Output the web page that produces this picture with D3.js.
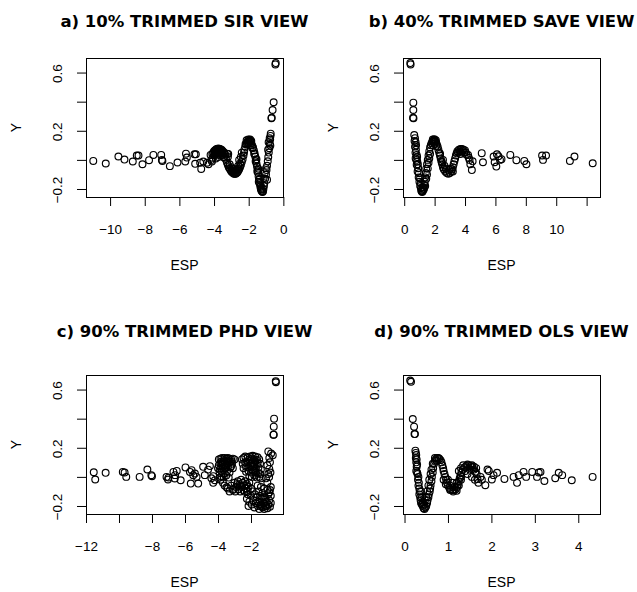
<!DOCTYPE html>
<html>
<head>
<meta charset="utf-8">
<script src="https://cdn.jsdelivr.net/npm/d3@7"></script>
<style>
body { margin: 0; background: #fff; }
</style>
</head>
<body>
<div id="chart"></div>
<script>

// Panel titles
var titles = ["a) 10% TRIMMED SIR VIEW", "b) 40% TRIMMED SAVE VIEW",
              "c) 90% TRIMMED PHD VIEW", "d) 90% TRIMMED OLS VIEW"];

// Axis limits and ticks
var yLim = [-0.255, 0.70];
var yTicks = [-0.2, 0, 0.2, 0.4, 0.6];
var yTickLabels = ["\u22120.2", "", "0.2", "", "0.6"];

var xlimSir = [-11.39, -0.02];
var sirTicks = [-10, -8, -6, -4, -2, 0];
var sirTickLabels = ["\u221210", "\u22128", "\u22126", "\u22124", "\u22122", "0"];

var xlimSave = [-0.08, 12.88];
var saveTicks = [0, 2, 4, 6, 8, 10, 12];
var saveTickLabels = ["0", "2", "4", "6", "8", "10", ""];

var xlimPhd = [-12.0, -0.06];
var phdTicks = [-12, -10, -8, -6, -4, -2];
var phdTickLabels = ["\u221212", "", "\u22128", "\u22126", "\u22124", "\u22122"];

var xlimOls = [-0.035, 4.5];
var olsTicks = [0, 1, 2, 3, 4];
var olsTickLabels = ["0", "1", "2", "3", "4"];

// [ESP, Y] pairs
var sirPoints = [
  [-10.97,-0.007],[-10.25,-0.025],[-9.52,0.023],[-9.17,0.002],[-8.69,-0.011],[-8.46,0.03],[-8.36,0.03],
  [-8.13,-0.03],[-7.75,-0.002],[-7.5,0.034],[-7.05,0.034],[-7.01,0.0],[-6.98,-0.007],[-6.55,-0.043],
  [-6.11,-0.018],[-5.66,-0.011],[-5.62,0.043],[-5.57,0.016],[-5.13,0.039],[-5.09,-0.027],[-5.05,0.039],
  [-4.8,-0.02],[-4.74,-0.062],[-4.62,-0.011],[-4.4,-0.02],[-4.32,-0.03],[-4.2,0.034],[-4.15,0.0],[-4.12,-0.011],
  [-4.1,0.04],[-4.05,0.05],[-4.0,0.06],[-3.95,0.065],[-3.9,0.07],[-3.85,0.075],[-3.8,0.075],[-3.75,0.078],
  [-3.7,0.075],[-3.65,0.075],[-3.6,0.07],[-3.55,0.068],[-3.5,0.06],[-3.45,0.055],[-3.4,0.045],[-3.35,0.035],
  [-4.0,0.03],[-3.9,0.04],[-3.8,0.05],[-3.7,0.045],[-3.6,0.05],[-3.5,0.035],[-3.45,0.02],[-3.9,0.01],
  [-3.75,0.02],[-3.25,0.043],[-3.18,0.04],[-3.2,0.02],
  [-4.08,0.015],[-3.95,0.045],[-3.85,0.06],[-3.75,0.06],[-3.65,0.055],[-3.55,0.045],[-3.62,0.03],
  [-3.4,0.015],[-3.82,0.035],[-3.68,0.065],
  [-3.3,0.0],[-3.25,-0.02],[-3.2,-0.035],[-3.15,-0.05],[-3.1,-0.06],[-3.05,-0.07],[-3.0,-0.08],[-2.95,-0.085],
  [-2.9,-0.09],[-2.85,-0.095],[-2.8,-0.095],[-2.75,-0.095],[-2.7,-0.09],[-2.65,-0.085],[-2.6,-0.075],
  [-2.55,-0.065],[-2.5,-0.05],[-2.45,-0.035],[-2.4,-0.015],[-2.35,0.005],[-3.1,-0.03],[-2.95,-0.06],
  [-2.8,-0.07],[-2.6,-0.04],[-2.55,0.0],[-2.45,0.02],[-2.4,0.05],
  [-3.0,-0.05],[-2.88,-0.075],[-2.72,-0.075],[-2.65,-0.06],[-2.5,-0.025],
  [-2.3,0.03],[-2.27,0.05],[-2.25,0.07],[-2.2,0.09],[-2.15,0.105],[-2.1,0.12],[-2.05,0.125],[-2.0,0.13],
  [-1.95,0.13],[-1.9,0.125],[-1.85,0.115],[-1.8,0.1],[-1.75,0.085],[-2.12,0.135],[-2.02,0.14],[-1.92,0.14],
  [-1.85,0.13],[-2.18,0.11],[-2.08,0.105],[-1.98,0.11],[-1.88,0.1],[-1.78,0.08],
  [-1.7,0.065],[-1.66,0.045],[-1.62,0.023],[-1.58,0.0],[-1.55,-0.025],[-1.52,-0.046],[-1.49,-0.07],
  [-1.46,-0.09],[-1.43,-0.114],[-1.4,-0.135],[-1.37,-0.16],[-1.33,-0.183],[-1.3,-0.2],[-1.27,-0.21],
  [-1.23,-0.217],[-1.2,-0.22],[-1.17,-0.215],[-1.25,-0.19],[-1.35,-0.13],[-1.45,-0.06],
  [-1.68,0.04],[-1.6,-0.01],[-1.55,0.005],[-1.5,-0.08],[-1.42,-0.15],[-1.32,-0.17],
  [-1.15,-0.2],[-1.12,-0.18],[-1.1,-0.16],[-1.05,-0.13],[-1.0,-0.1],[-0.97,-0.07],[-0.94,-0.04],[-0.9,-0.01],
  [-0.87,0.02],[-0.84,0.05],[-0.81,0.08],[-0.78,0.11],[-0.76,0.14],[-0.74,0.165],[-0.73,0.18],
  [-1.14,-0.126],[-1.08,-0.091],[-1.0,-0.057],[-0.94,-0.137],[-0.88,0.069],[-0.85,0.121],[-0.79,0.149],
  [-0.75,0.098],
  [-0.69,0.286],[-0.67,0.29],[-0.62,0.343],[-0.56,0.396],[-0.46,0.656],[-0.44,0.665]
];

var savePoints = [
  [0.4,0.665],[0.42,0.656],[0.6,0.393],[0.6,0.343],[0.58,0.29],[0.61,0.286],
  [0.66,0.171],[0.71,0.149],[0.75,0.121],[0.71,0.091],[0.77,0.069],[0.82,0.034],[0.75,0.011],[0.86,-0.011],
  [0.82,-0.034],[0.92,-0.057],[0.97,-0.091],[1.04,-0.126],[1.08,-0.16],[1.1,-0.194],[0.68,0.13],[0.74,0.05],
  [0.8,0.0],[0.88,-0.08],[0.95,-0.12],[1.0,-0.15],[1.05,-0.18],[0.78,0.1],[0.85,0.02],[0.9,-0.03],
  [1.12,-0.21],[1.15,-0.215],[1.18,-0.22],[1.22,-0.215],[1.25,-0.205],[1.2,-0.19],[1.3,-0.2],[1.28,-0.19],
  [1.32,-0.17],[1.35,-0.15],[1.38,-0.12],[1.42,-0.09],[1.45,-0.06],[1.5,-0.03],[1.55,0.0],[1.6,0.03],
  [1.65,0.06],[1.7,0.085],[1.75,0.1],[1.8,0.115],[1.38,-0.18],[1.45,-0.13],[1.5,-0.1],[1.55,-0.06],
  [1.6,-0.02],[1.65,0.01],[1.7,0.04],
  [1.85,0.125],[1.9,0.13],[1.95,0.135],[2.0,0.13],[2.05,0.125],[2.1,0.12],[2.15,0.105],[1.88,0.14],
  [1.98,0.142],[2.08,0.135],[1.9,0.1],[2.0,0.11],[2.1,0.095],
  [2.2,0.09],[2.25,0.07],[2.3,0.05],[2.35,0.03],[2.4,0.01],[2.45,-0.01],[2.5,-0.03],[2.55,-0.05],
  [2.6,-0.065],[2.7,-0.08],[2.8,-0.09],[2.9,-0.095],[2.36,0.043],[2.47,-0.016],[2.55,0.0],[2.65,-0.04],
  [2.75,-0.06],
  [3.0,-0.09],[3.1,-0.08],[3.15,-0.065],[3.2,-0.05],[3.25,-0.03],[3.3,-0.01],[3.35,0.01],[3.4,0.03],
  [3.45,0.045],[3.5,0.06],[2.95,-0.07],[3.05,-0.06],[3.2,-0.08],
  [3.6,0.07],[3.7,0.075],[3.8,0.075],[3.9,0.07],[4.0,0.065],[4.05,0.05],[4.1,0.035],[3.55,0.05],
  [3.65,0.06],[3.75,0.05],[3.85,0.06],[3.95,0.05],[3.7,0.04],
  [4.2,0.034],[4.3,0.0],[4.45,-0.07],[4.35,-0.03],[4.5,-0.01],[4.25,0.015],[5.1,0.046],[5.18,-0.016],
  [5.88,0.023],[5.95,-0.016],[6.06,-0.046],[6.1,0.039],[6.3,0.0],[6.4,0.005],[6.2,0.025],[6.98,0.034],
  [7.38,-0.002],[7.9,-0.007],[8.04,-0.03],[9.07,0.03],[9.13,0.0],[9.33,0.03],[10.9,-0.007],[11.2,0.023],
  [12.4,-0.023]
];

var phdPoints = [
  [-11.53,0.032],[-11.44,-0.018],[-10.81,0.028],[-9.77,0.034],[-9.66,0.03],[-9.56,0.0],[-8.75,0.0],
  [-8.28,0.051],[-8.04,0.012],[-8.0,0.005],[-7.12,0.0],[-7.03,-0.018],[-7.0,-0.005],[-6.7,0.034],
  [-6.6,0.012],[-6.62,-0.011],[-6.5,0.041],[-6.26,-0.023],[-5.97,0.065],[-5.7,0.034],[-5.6,0.046],
  [-5.5,0.012],[-5.4,0.023],[-5.3,0.0],[-5.65,-0.046],[-5.2,-0.046],[-4.9,0.069],[-4.49,0.074],
  [-4.8,0.012],[-4.29,0.005],[-4.19,-0.023],[-4.29,-0.041],[-4.6,0.05],[-4.4,-0.01],
  [-3.95,0.12],[-3.85,0.125],[-3.75,0.13],[-3.6,0.13],[-3.5,0.125],[-3.4,0.13],[-3.3,0.125],[-3.2,0.12],
  [-3.1,0.125],[-3.0,0.12],[-3.95,0.08],[-3.85,0.09],[-3.7,0.1],[-3.6,0.09],[-3.45,0.095],[-3.3,0.1],
  [-3.15,0.09],[-4.0,0.06],[-3.9,0.05],[-3.8,0.06],[-3.7,0.07],[-3.55,0.06],[-3.4,0.07],[-3.25,0.065],
  [-3.1,0.06],[-3.9,0.03],[-3.75,0.035],[-3.6,0.025],[-3.45,0.04],[-3.3,0.03],[-3.8,0.005],[-3.65,0.0],
  [-3.5,0.01],[-3.35,-0.005],[-3.85,-0.02],[-3.7,-0.04],[-3.6,-0.06],[-3.9,-0.005],
  [-3.8,0.105],[-3.65,0.115],[-3.5,0.105],[-3.35,0.11],[-3.2,0.105],[-3.75,0.08],[-3.5,0.08],[-3.2,0.075],
  [-3.4,-0.08],[-3.3,-0.1],[-3.2,-0.06],[-3.1,-0.09],[-3.0,-0.04],[-2.95,-0.1],[-2.9,-0.07],[-2.8,-0.03],
  [-2.75,-0.085],[-2.7,-0.05],[-2.65,-0.1],[-2.6,-0.02],[-2.55,-0.07],[-2.5,-0.04],[-2.45,-0.09],
  [-2.4,-0.06],[-2.35,-0.03],[-2.3,-0.08],[-2.25,-0.05],[-2.2,-0.1],[-2.15,-0.07],[-2.1,-0.04],
  [-3.48,-0.071],[-3.08,-0.083],[-2.85,-0.05],[-2.6,-0.06],[-2.4,-0.1],
  [-2.55,0.12],[-2.45,0.13],[-2.35,0.14],[-2.2,0.135],[-2.05,0.14],[-1.9,0.145],[-1.75,0.14],[-1.6,0.135],
  [-1.5,0.12],[-2.5,0.09],[-2.35,0.1],[-2.2,0.1],[-2.05,0.11],[-1.9,0.1],[-1.75,0.105],[-1.6,0.095],
  [-1.45,0.09],[-2.45,0.06],[-2.3,0.07],[-2.15,0.065],[-2.0,0.075],[-1.85,0.07],[-1.7,0.06],[-1.55,0.065],
  [-1.4,0.05],[-2.3,0.035],[-2.15,0.04],[-2.0,0.03],[-1.85,0.04],[-1.7,0.03],[-1.55,0.025],[-1.45,0.02],
  [-2.1,0.005],[-1.95,0.0],[-1.8,0.01],[-1.65,-0.005],[-1.5,0.0],[-1.4,-0.01],
  [-2.1,0.12],[-1.95,0.125],[-1.8,0.12],[-1.65,0.115],[-2.0,0.09],[-1.8,0.085],[-1.95,0.05],[-1.75,0.045],
  [-2.25,-0.06],[-2.2,-0.12],[-2.25,-0.15],[-2.15,-0.2],[-2.1,-0.17],[-2.0,-0.08],[-2.0,-0.13],[-1.95,-0.19],
  [-1.9,-0.1],[-1.85,-0.16],[-1.8,-0.21],[-1.75,-0.12],[-1.7,-0.18],[-1.65,-0.14],[-1.6,-0.2],[-1.55,-0.1],
  [-1.55,-0.17],[-1.5,-0.22],[-1.45,-0.13],[-1.4,-0.19],[-1.35,-0.15],[-1.3,-0.21],[-1.3,-0.11],
  [-1.25,-0.18],[-1.2,-0.22],[-1.15,-0.14],[-1.1,-0.2],[-1.05,-0.17],[-1.0,-0.215],[-0.95,-0.12],
  [-0.95,-0.19],[-0.9,-0.16],[-0.85,-0.205],[-0.8,-0.13],[-0.8,-0.18],[-1.6,-0.06],[-1.4,-0.07],
  [-1.2,-0.08],[-1.0,-0.09],[-0.85,-0.09],
  [-1.35,-0.2],[-1.15,-0.2],[-1.25,-0.14],[-1.05,-0.2],[-1.45,-0.2],[-1.12,-0.17],
  [-0.95,0.175],[-0.78,0.16],[-0.89,0.13],[-0.85,0.10],[-1.01,0.08],[-0.89,0.055],[-0.95,0.02],
  [-1.09,-0.01],[-1.01,-0.04],[-0.8,-0.07],[-0.89,-0.105],[-0.82,0.03],[-0.9,0.0],[-0.68,0.148],
  [-0.6,0.4],[-0.62,0.345],[-0.64,0.29],[-0.62,0.29],[-0.5,0.658],[-0.49,0.65]
];

var olsPoints = [
  [0.13,0.662],[0.15,0.653],[0.19,0.398],[0.22,0.345],[0.23,0.294],[0.24,0.294],
  [0.25,0.18],[0.26,0.165],[0.27,0.15],[0.26,0.13],[0.28,0.12],[0.27,0.1],[0.29,0.085],[0.28,0.07],
  [0.27,0.04],[0.29,0.03],[0.3,0.02],[0.32,0.0],[0.31,-0.02],[0.33,-0.04],[0.32,-0.06],[0.34,-0.08],
  [0.35,-0.1],[0.34,-0.12],[0.36,-0.14],[0.37,-0.16],[0.38,-0.18],[0.4,-0.19],[0.42,-0.2],[0.44,-0.215],
  [0.46,-0.22],[0.48,-0.21],[0.5,-0.2],[0.52,-0.18],[0.53,-0.16],[0.55,-0.14],[0.56,-0.12],[0.58,-0.1],
  [0.59,-0.08],[0.6,-0.06],[0.62,-0.03],[0.63,0.0],[0.65,0.03],[0.66,0.06],[0.68,0.09],[0.7,0.11],
  [0.72,0.12],[0.75,0.13],[0.78,0.13],[0.8,0.125],[0.83,0.115],[0.85,0.1],[0.87,0.08],[0.89,0.06],
  [0.9,0.04],[0.92,0.02],[0.94,0.0],[0.96,-0.02],[0.98,-0.04],[1.0,-0.06],[1.03,-0.075],[1.06,-0.085],
  [1.1,-0.09],[1.14,-0.09],[1.18,-0.085],[1.21,-0.07],[1.23,-0.05],[1.25,-0.03],[1.27,-0.01],[1.29,0.01],
  [1.31,0.03],[1.34,0.05],[1.38,0.065],[1.42,0.075],[1.47,0.08],[1.52,0.075],[1.56,0.065],[1.6,0.05],
  [1.63,0.035],[1.66,0.02],
  [0.38,-0.1],[0.4,-0.14],[0.42,-0.17],[0.45,-0.19],[0.47,-0.16],[0.5,-0.14],[0.52,-0.1],[0.55,-0.06],
  [0.57,-0.02],[0.6,0.02],[0.62,0.05],[0.65,0.09],[0.7,0.13],[0.74,0.11],
  [0.9,-0.02],[0.95,-0.05],[1.0,-0.02],[1.05,-0.06],[1.1,-0.04],[1.15,-0.07],[1.2,-0.04],[1.25,-0.06],
  [1.3,-0.02],[1.05,-0.09],[1.12,-0.1],[1.2,-0.095],
  [1.25,0.04],[1.3,0.06],[1.35,0.08],[1.45,0.085],[1.55,0.08],[1.4,0.04],[1.5,0.05],[1.6,0.07],
  [1.65,0.06],[1.3,0.0],[1.45,0.02],[1.55,0.0],[1.62,-0.02],[1.68,-0.015],
  [1.7,-0.04],[1.75,0.0],[1.78,-0.02],[1.86,-0.057],[1.91,0.051],[1.94,0.041],[2.01,-0.018],[2.05,0.012],
  [2.13,0.028],[2.3,-0.014],[2.51,0.0],[2.59,-0.041],[2.63,0.012],[2.74,0.034],[2.8,0.0],[2.94,0.034],
  [3.05,0.0],[3.09,0.03],[3.13,0.034],[3.22,-0.028],[3.47,-0.009],[3.55,0.028],[3.63,0.012],[3.85,-0.023],
  [4.33,0.0]
];

// Plot box size (same for all four panels)
var boxWidth = 197,
    boxHeight = 139;

var svg = d3.select("#chart").append("svg")
    .attr("width", 637)
    .attr("height", 592)
    .style("background", "#fff");

var panels = [
    {points: sirPoints, title: titles[0], xlim: xlimSir, ticks: sirTicks, labels: sirTickLabels, left: 86, top: 58, titleY: 21},
    {points: savePoints, title: titles[1], xlim: xlimSave, ticks: saveTicks, labels: saveTickLabels, left: 403, top: 58, titleY: 21},
    {points: phdPoints, title: titles[2], xlim: xlimPhd, ticks: phdTicks, labels: phdTickLabels, left: 86, top: 375, titleY: 331},
    {points: olsPoints, title: titles[3], xlim: xlimOls, ticks: olsTicks, labels: olsTickLabels, left: 403, top: 375, titleY: 331}
];

panels.forEach(drawPanel);

// Draw one R-style scatter panel
function drawPanel(p) {
    var font = "'Liberation Sans', Arial, sans-serif";

    var x = d3.scaleLinear().domain(p.xlim).range([0, boxWidth]);
    var y = d3.scaleLinear().domain(yLim).range([boxHeight, 0]);

    var g = svg.append("g")
        .attr("transform", "translate(" + p.left + "," + p.top + ")");

    // Title
    svg.append("text")
        .attr("x", p.left + boxWidth / 2)
        .attr("y", p.titleY)
        .attr("text-anchor", "middle")
        .attr("dominant-baseline", "central")
        .attr("font-family", "'DejaVu Sans', sans-serif")
        .attr("font-weight", "bold")
        .attr("font-size", 16.5)
        .text(p.title);

    // Points
    g.selectAll("circle")
        .data(p.points)
        .enter().append("circle")
        .attr("cx", function(d) { return x(d[0]); })
        .attr("cy", function(d) { return y(d[1]); })
        .attr("r", 3.4)
        .attr("fill", "none")
        .attr("stroke", "#000")
        .attr("stroke-width", 1.15);

    // Box
    g.append("rect")
        .attr("x", 0.5)
        .attr("y", 0.5)
        .attr("width", boxWidth)
        .attr("height", boxHeight)
        .attr("fill", "none")
        .attr("stroke", "#000");

    // X axis
    var xAxis = d3.axisBottom(x)
        .tickValues(p.ticks)
        .tickSize(9)
        .tickPadding(18)
        .tickFormat(function(d, i) { return p.labels[i]; });

    var gx = g.append("g")
        .attr("transform", "translate(0," + boxHeight + ")")
        .call(xAxis)
        .attr("font-family", font)
        .attr("font-size", 13.5);
    gx.select(".domain").remove();
    gx.append("line")
        .attr("x1", x(p.ticks[0]) + 0.5)
        .attr("x2", x(p.ticks[p.ticks.length - 1]) + 0.5)
        .attr("y1", 0.5)
        .attr("y2", 0.5)
        .attr("stroke", "#000");
    gx.selectAll("text").attr("fill", "#000");

    // Y axis with rotated labels
    var yAxis = d3.axisLeft(y)
        .tickValues(yTicks)
        .tickSize(9)
        .tickFormat(function(d, i) { return yTickLabels[i]; });

    var gy = g.append("g")
        .call(yAxis)
        .attr("font-family", font)
        .attr("font-size", 13.5);
    gy.select(".domain").remove();
    gy.append("line")
        .attr("x1", 0.5)
        .attr("x2", 0.5)
        .attr("y1", y(yTicks[0]) + 0.5)
        .attr("y2", y(yTicks[yTicks.length - 1]) + 0.5)
        .attr("stroke", "#000");
    gy.selectAll("text")
        .attr("x", null)
        .attr("dy", null)
        .attr("fill", "#000")
        .attr("text-anchor", "middle")
        .attr("dominant-baseline", "central")
        .attr("transform", "translate(-29,0.5) rotate(-90)");

    // Axis titles
    g.append("text")
        .attr("x", boxWidth / 2)
        .attr("y", boxHeight + 68)
        .attr("text-anchor", "middle")
        .attr("dominant-baseline", "central")
        .attr("font-family", font)
        .attr("font-size", 14)
        .text("ESP");

    g.append("text")
        .attr("transform", "translate(-70," + (boxHeight / 2) + ") rotate(-90)")
        .attr("text-anchor", "middle")
        .attr("dominant-baseline", "central")
        .attr("font-family", font)
        .attr("font-size", 14)
        .text("Y");
}

</script>
</body>
</html>
